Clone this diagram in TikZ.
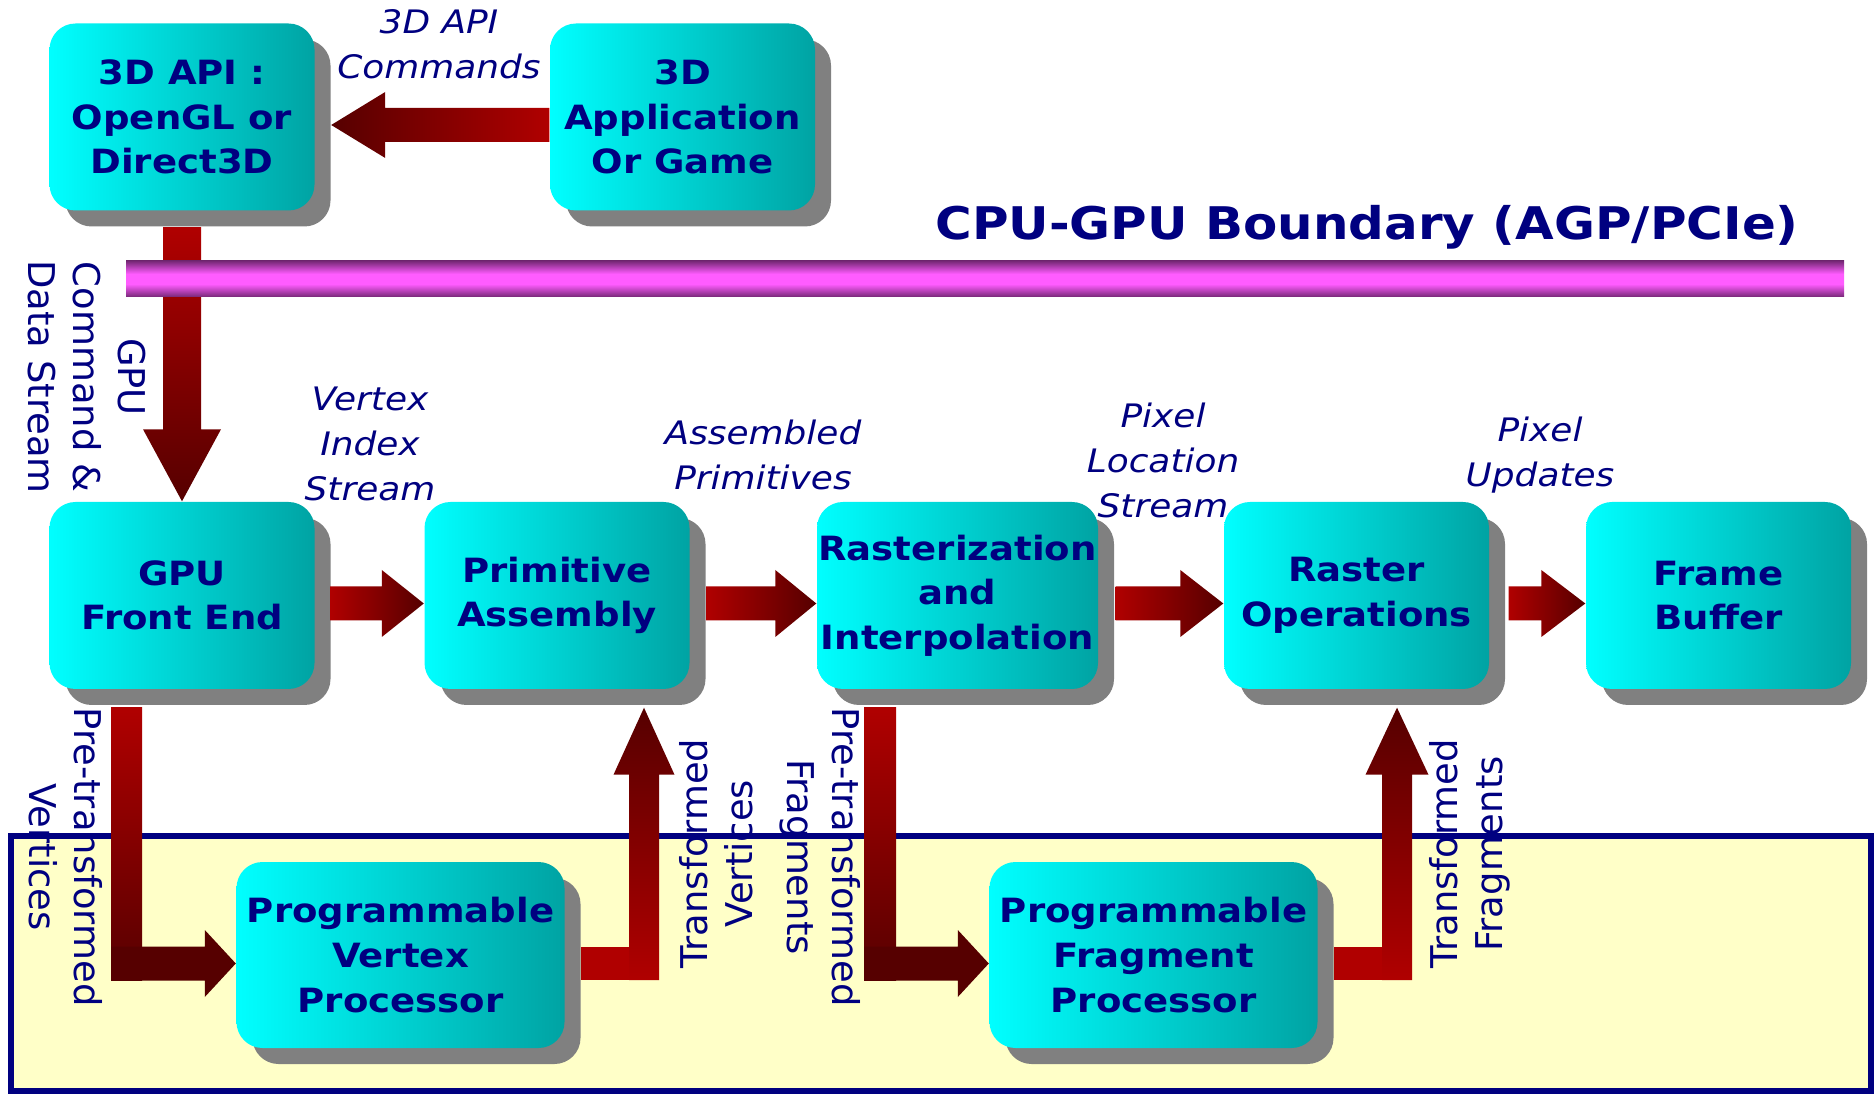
\documentclass[tikz,border=0pt]{standalone}
\usepackage{fontspec}
\setmainfont{DejaVu Sans}[FakeStretch=1.11]
\newfontfamily\rotfont{DejaVu Sans}
\usetikzlibrary{calc,shadows,backgrounds}
\definecolor{navy}{HTML}{000080}
\definecolor{boxL}{HTML}{00FFFF}
\definecolor{boxR}{HTML}{00A3A3}
\definecolor{dropgray}{HTML}{808080}
\definecolor{pipeA}{HTML}{B00000}
\definecolor{pipeB}{HTML}{560000}
\definecolor{busE}{HTML}{762876}
\definecolor{busM}{HTML}{FF5CFF}
\definecolor{gpuzone}{HTML}{FFFFC8}
\pgfdeclareverticalshading{tube}{100bp}{color(0bp)=(busE); color(25bp)=(busE);
  color(43bp)=(busM); color(57bp)=(busM); color(75bp)=(busE); color(100bp)=(busE)}
\newcommand{\boxtext}{\fontsize{9.5}{12.7}\selectfont\bfseries}
\newcommand{\flowtext}{\fontsize{9.2}{12.8}\selectfont\itshape}
\newcommand{\sidetext}{\rotfont\fontsize{10.5}{12.8}\selectfont}
\newcommand{\bustitle}{\fontsize{12.8}{15}\selectfont\bfseries}

% fat block arrows: tail, tip, head length (and half widths for vertical ones)
\newcommand{\rarrow}[4][left color=pipeA,right color=pipeB]{%
  \path[#1] let \p1=(#2), \p2=(#3) in
    (\x1,\y2+1.7mm) -- (\x2-#4cm,\y2+1.7mm) -- (\x2-#4cm,\y2+3.35mm) -- (\x2,\y2)
    -- (\x2-#4cm,\y2-3.35mm) -- (\x2-#4cm,\y2-1.7mm) -- (\x1,\y2-1.7mm) -- cycle;}
\newcommand{\larrow}[4][right color=pipeA,left color=pipeB]{%
  \path[#1] let \p1=(#2), \p2=(#3) in
    (\x1,\y2+1.7mm) -- (\x2+#4cm,\y2+1.7mm) -- (\x2+#4cm,\y2+3.3mm) -- (\x2,\y2)
    -- (\x2+#4cm,\y2-3.3mm) -- (\x2+#4cm,\y2-1.7mm) -- (\x1,\y2-1.7mm) -- cycle;}
\newcommand{\uarrow}[6][bottom color=pipeA,top color=pipeB]{%
  \path[#1] let \p1=(#2), \p2=(#3) in
    (\x2-#5cm,\y1) -- (\x2-#5cm,\y2-#4cm) -- (\x2-#6cm,\y2-#4cm) -- (\x2,\y2)
    -- (\x2+#6cm,\y2-#4cm) -- (\x2+#5cm,\y2-#4cm) -- (\x2+#5cm,\y1) -- cycle;}
\newcommand{\darrow}[6][top color=pipeA,bottom color=pipeB]{%
  \path[#1] let \p1=(#2), \p2=(#3) in
    (\x2-#5cm,\y1) -- (\x2-#5cm,\y2+#4cm) -- (\x2-#6cm,\y2+#4cm) -- (\x2,\y2)
    -- (\x2+#6cm,\y2+#4cm) -- (\x2+#5cm,\y2+#4cm) -- (\x2+#5cm,\y1) -- cycle;}

\begin{document}
\begin{tikzpicture}[
  box/.style={rounded corners=2.6mm,minimum width=2.65cm,minimum height=1.87cm,inner sep=0pt,
    left color=boxL,right color=boxR,text=navy,font=\boxtext,align=center,
    drop shadow={shadow xshift=1.6mm,shadow yshift=-1.6mm,fill=dropgray,opacity=1}},
  flow/.style={text=navy,font=\flowtext,align=center,inner sep=0pt},
  side/.style={text=navy,font=\sidetext,align=center,inner sep=0pt},
  bus/.style={minimum width=17.18cm,minimum height=3.6mm,inner sep=0pt,shade,shading=tube}]

  \useasboundingbox (0,0) rectangle (18.74,10.94);

  % CPU side
  \node[box] (api) at (1.82,9.77) {3D API :\\OpenGL or\\Direct3D};
  \node[box] (app) at (6.825,9.77) {3D\\Application\\Or Game};

  % fixed pipeline
  \node[box] (fe) at (1.82,4.985) {GPU\\Front End};
  \node[box] (pa) at (5.57,4.985) {Primitive\\Assembly};
  \node[box,minimum width=2.81cm] (rast) at (9.575,4.985) {Rasterization\\and\\Interpolation};
  \node[box] (rop) at (13.565,4.985) {Raster\\Operations};
  \node[box] (fb) at (17.185,4.985) {Frame\\Buffer};

  % programmable units
  \node[box,minimum width=3.28cm,minimum height=1.86cm] (vp) at (4.005,1.39)
    {Programmable\\Vertex\\Processor};
  \node[box,minimum width=3.28cm,minimum height=1.86cm] (fp) at (11.535,1.39)
    {Programmable\\Fragment\\Processor};

  \begin{scope}[on background layer]
    \draw[navy,line width=.55mm,fill=gpuzone] (0.11,0.03) rectangle (18.71,2.58);
  \end{scope}

  % CPU to GPU
  \larrow{[yshift=-.8mm]app.west}{[xshift=1.6mm,yshift=-.8mm]api.east}{.54}
  \darrow{[yshift=-1.6mm]api.south}{fe.north}{.72}{.19}{.39}

  % pipeline arrows
  \rarrow{[xshift=1.5mm]fe.east}{[yshift=-.8mm]pa.west}{.42}
  \rarrow{[xshift=1.6mm]pa.east}{[yshift=-.8mm]rast.west}{.41}
  \rarrow{[xshift=1.7mm]rast.east}{[yshift=-.8mm]rop.west}{.43}
  \rarrow{[xshift=1.9mm]rop.east}{[yshift=-.8mm]fb.west}{.44}

  % detours through the programmable units
  \coordinate (k1) at (1.265,1.305);
  \coordinate (k2) at (6.44,1.305);
  \coordinate (k3) at (8.80,1.305);
  \coordinate (k4) at (13.97,1.305);

  \path[top color=pipeA,bottom color=pipeB] ($(k1|-fe.south)+(-.155,-.18)$) rectangle ($(k1)+(.155,-.165)$);
  \rarrow[fill=pipeB]{$(k1)+(-.155,0)$}{vp.west|-k1}{.31}
  \path[fill=pipeA] ($(vp.east|-k2)+(.16,.165)$) rectangle ($(k2)+(.15,-.165)$);
  \uarrow{$(k2)+(0,-.165)$}{$(k2|-pa.south)+(0,-.18)$}{.67}{.15}{.305}

  \path[top color=pipeA,bottom color=pipeB] ($(k3|-rast.south)+(-.16,-.18)$) rectangle ($(k3)+(.16,-.165)$);
  \rarrow[fill=pipeB]{$(k3)+(-.16,0)$}{fp.west|-k3}{.31}
  \path[fill=pipeA] ($(fp.east|-k4)+(.16,.165)$) rectangle ($(k4)+(.15,-.165)$);
  \uarrow{$(k4)+(0,-.165)$}{$(k4|-rop.south)+(0,-.18)$}{.67}{.15}{.315}

  % boundary
  \node[bus] (bus) at (9.85,8.15) {};
  \node[text=navy,font=\bustitle,anchor=base] (bustitle) at (13.67,8.54) {CPU-GPU Boundary (AGP/PCIe)};

  % labels
  \node[flow] (lcmd) at (4.39,10.495) {3D API\\Commands};
  \node[flow] (lvis) at (3.70,6.50) {Vertex\\Index\\Stream};
  \node[flow] (lap) at (7.63,6.39) {Assembled\\Primitives};
  \node[flow] (lpls) at (11.63,6.34) {Pixel\\Location\\Stream};
  \node[flow] (lpu) at (15.40,6.39) {Pixel\\Updates};

  \node[side,rotate=-90] (lgpu) at (0.87,7.17) {GPU\\Command \&\\Data Stream};
  \node[side,rotate=-90] (lptv) at (0.66,2.37) {Pre-transformed\\Vertices};
  \node[side,rotate=90] (ltv) at (7.165,2.405) {Transformed\\Vertices};
  \node[side,rotate=-90] (lptf) at (8.205,2.37) {Pre-transformed\\Fragments};
  \node[side,rotate=90] (ltf) at (14.695,2.40) {Transformed\\Fragments};
\end{tikzpicture}
\end{document}
